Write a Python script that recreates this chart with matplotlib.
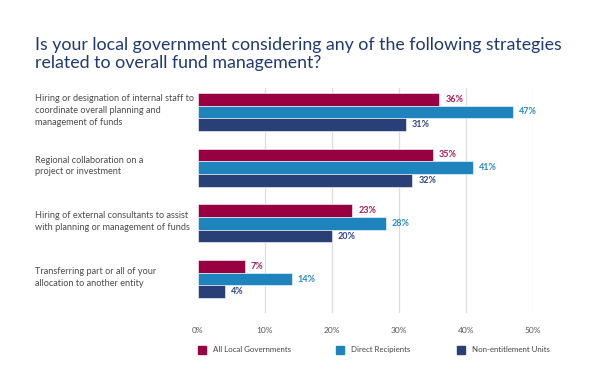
import matplotlib.pyplot as plt
from matplotlib.patches import Rectangle
import numpy as np

plt.rcParams['font.family'] = ['Lato', 'DejaVu Sans']

categories = [
    "Hiring or designation of internal staff to\ncoordinate overall planning and\nmanagement of funds",
    "Regional collaboration on a\nproject or investment",
    "Hiring of external consultants to assist\nwith planning or management of funds",
    "Transferring part or all of your\nallocation to another entity",
]
series_names = ["All Local Governments", "Direct Recipients", "Non-entitlement Units"]
all_local = [36, 35, 23, 7]
direct = [47, 41, 28, 14]
non_ent = [31, 32, 20, 4]
xticks = [0, 10, 20, 30, 40, 50]

bar_colors = ["#990042", "#1e84bd", "#283f78"]
label_colors = ["#a61c5c", "#2a8cc6", "#2f4582"]
title_color = "#1f3a6e"

fig = plt.figure(figsize=(6, 3.88), dpi=100)
ax = fig.add_axes([198 / 600, 1 - 313 / 388, (533 - 198) / 600, 225 / 388])

y = np.arange(len(categories))
h = 0.228
for i, vals in enumerate([all_local, direct, non_ent]):
    ypos = y + (i - 1) * h
    ax.barh(ypos, vals, height=h, color=bar_colors[i], edgecolor="white",
            linewidth=0.4, zorder=3)
    for yy, v in zip(ypos, vals):
        ax.text(v + 0.9, yy, f"{v}%", va="center", ha="left", fontsize=6.5,
                fontweight="bold", color=label_colors[i], clip_on=False)

ax.set_xlim(0, 50)
ax.set_ylim(3.61, -0.43)
ax.set_xticks(xticks)
ax.set_xticklabels([f"{t}%" for t in xticks], fontsize=6.0, color="#555555")
ax.tick_params(axis="x", length=0, pad=10)
ax.set_yticks([])
for s in ax.spines.values():
    s.set_visible(False)
for t in xticks[1:]:
    ax.axvline(t, color="#dddddd", linewidth=0.9, zorder=1)

# category labels on the left
for yy, cat in zip(y, categories):
    ax.text(-163 / 67 * 10, yy - 0.03, cat, ha="left", va="center", fontsize=6.55,
            color="#4a4a4a", linespacing=1.4, clip_on=False)

fig.text(35 / 600, 1 - 54 / 388,
         "Is your local government considering any of the following strategies\nrelated to overall fund management?",
         ha="left", va="center", fontsize=12.8, color=title_color, linespacing=1.15)

# legend
leg_x = [198, 336, 457]
for xx, name, c in zip(leg_x, series_names, bar_colors):
    fig.add_artist(Rectangle((xx / 600, 1 - 354 / 388), 8 / 600, 8 / 388,
                             transform=fig.transFigure, color=c))
    fig.text((xx + 15) / 600, 1 - 352 / 388, name, ha="left", va="baseline",
             fontsize=5.7, color="#444444")

fig.savefig("out.png", dpi=100)
